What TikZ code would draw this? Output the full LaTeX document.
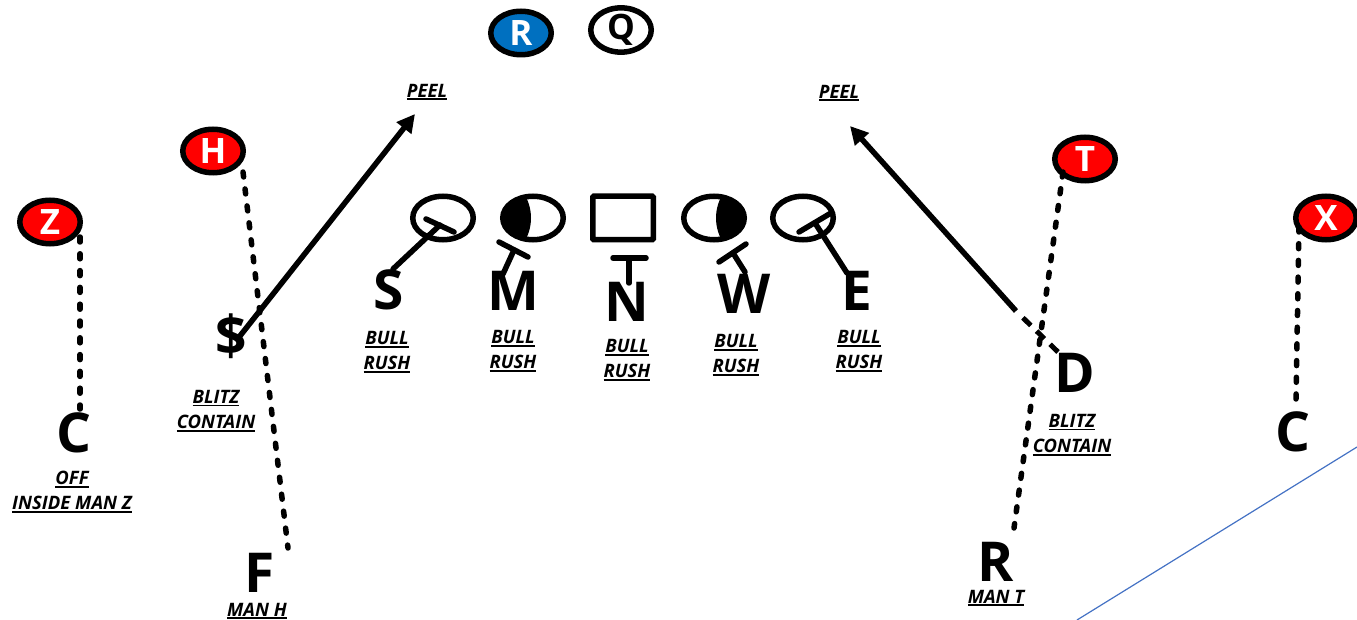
\documentclass[tikz,border=0pt]{standalone}
\usepackage{fontspec}
\setmainfont{Open Sans}
\usetikzlibrary{arrows.meta,shapes.geometric}
\definecolor{pred}{HTML}{FF0000}
\definecolor{pblue}{HTML}{0070C0}
\definecolor{pline}{HTML}{4472C4}
\newcommand\ulab[1]{\leavevmode\vtop{\hbox{#1}\kern1.2pt\hrule height 1.7pt}}
\tikzset{
  x=1pt,y=-1pt,
  oval/.style={ellipse,draw=black,line width=5.5pt,minimum width=60.5pt,minimum height=43.5pt,inner sep=0pt,outer sep=0pt,font=\fontsize{35}{36}\selectfont\bfseries},
  skill/.style={oval,fill=pred,text=white},
  back/.style={oval},
  box/.style={rectangle,draw=black,line width=5.5pt,rounded corners=1pt,minimum width=60.5pt,minimum height=43.5pt,inner sep=0pt,outer sep=0pt},
  player/.style={inner sep=0pt,outer sep=0pt,font=\fontsize{55}{58}\selectfont\bfseries},
  lab/.style={inner sep=0pt,outer sep=0pt,align=center,font=\fontsize{18.5}{25}\selectfont\bfseries\itshape},
  route/.style={line width=5.5pt,line cap=round,dash pattern=on 5pt off #1},
  solid route/.style={line width=5.5pt,-{Triangle[length=18pt,width=18pt]}},
  block/.style={line width=5.5pt,line cap=round},
}
\begin{document}
\begin{tikzpicture}
\useasboundingbox (0,0) rectangle (1357,620);
% backs and receivers
\node[back,fill=pblue,text=white] (rb) at (521,33) {R};
\node[back] (qb) at (621,30) {Q};
\node[skill] (z) at (50,222) {Z};
\node[skill] (h) at (213,151) {H};
\node[skill] (t) at (1085,159) {T};
\node[skill] (x) at (1326,218) {X};
% front symbols
\node[back] (os) at (443,218) {};
\node[back] (om) at (533,218) {};
\node[box] (on) at (623,218) {};
\node[back] (ow) at (714,218) {};
\node[back] (oe) at (803,218) {};
\begin{scope}
 \clip (533,218) ellipse [x radius=31,y radius=22.5];
 \fill (495,190) -- (522,190) .. controls (534,208) and (534,228) .. (522,246) -- (495,246) -- cycle;
\end{scope}
\begin{scope}
 \clip (714,218) ellipse [x radius=31,y radius=22.5];
 \fill (752,190) -- (725,190) .. controls (713,208) and (713,228) .. (725,246) -- (752,246) -- cycle;
\end{scope}
% players
\node[player] (ps) at (389,290) {S};
\node[player] (pm) at (513,291) {M};
\node[player] (pn) at (627,302) {N};
\node[player] (pw) at (744,294) {W};
\node[player] (pe) at (857,291) {E};
\node[player] (pd) at (231,336) {\$};
\node[player] (cl) at (74,433) {C};
\node[player] (pf) at (260,573) {F};
\node[player] (dr) at (1075,373) {D};
\node[player] (pr) at (996,562) {R};
\node[player] (cr) at (1293,432) {C};
% labels
\node[lab] (l1) at (387,352) {\ulab{BULL}\\\ulab{RUSH}};
\node[lab] (l2) at (513,351) {\ulab{BULL}\\\ulab{RUSH}};
\node[lab] (l3) at (627,360) {\ulab{BULL}\\\ulab{RUSH}};
\node[lab] (l4) at (736,355) {\ulab{BULL}\\\ulab{RUSH}};
\node[lab] (l5) at (859,351) {\ulab{BULL}\\\ulab{RUSH}};
\node[lab] (peell) at (427,92) {\ulab{PEEL}};
\node[lab] (peelr) at (839,93) {\ulab{PEEL}};
\node[lab] (bl) at (216,411) {\ulab{BLITZ}\\\ulab{CONTAIN}};
\node[lab] (br) at (1072,435) {\ulab{BLITZ}\\\ulab{CONTAIN}};
\node[lab] (off) at (72,492) {\ulab{OFF}\\\ulab{INSIDE MAN Z}};
\node[lab] (mh) at (257,611) {\ulab{MAN H}};
\node[lab] (mt) at (996,598) {\ulab{MAN T}};
% blocks: stem from the player, bar at the end
\draw[block] ([shift={(4,-21)}]ps.center) -- ([shift={(-3,7)}]os.center);
\draw[block] ([shift={(-17,1)}]os.center) -- ([shift={(11,14)}]os.center);
\draw[block] ([shift={(-10,-17)}]pm.center) -- ([shift={(-19,32)}]om.center);
\draw[block] ([shift={(-34,24)}]om.center) -- ([shift={(-5,39)}]om.center);
\draw[block] ([shift={(2,-19)}]pn.center) -- ([shift={(6,40)}]on.center);
\draw[block] ([shift={(-10,40)}]on.center) -- ([shift={(23,40)}]on.center);
\draw[block] ([shift={(1,-22)}]pw.center) -- ([shift={(19,35)}]ow.center);
\draw[block] ([shift={(5,44)}]ow.center) -- ([shift={(32,26)}]ow.center);
\draw[block] ([shift={(-10,-18)}]pe.center) -- ([shift={(12,5)}]oe.center);
\draw[block] ([shift={(-4,14)}]oe.center) -- ([shift={(28,-5)}]oe.center);
% man routes
\draw[route=11.8pt] ([shift={(30,15)}]z.center) -- ([shift={(6,-24)}]cl.center);
\draw[route=12.08pt] ([shift={(30,21)}]h.center) -- ([shift={(28,-25)}]pf.center);
\draw[route=11.9pt] ([shift={(-22,13)}]t.center) -- ([shift={(18,-34)}]pr.center);
\draw[route=11.7pt] ([shift={(-27,9)}]x.center) -- ([shift={(3,-33)}]cr.center);
% blitz paths
\draw[solid route] ([shift={(5,5)}]pd.center) -- ([shift={(-12,22)}]peell.center);
\coordinate (kink) at (1016,311);
\draw[solid route] (kink) -- ([shift={(11,33)}]peelr.center);
\draw[line width=5pt,dash pattern=on 11pt off 8pt,shorten >=6pt] ([shift={(-17,-21)}]dr.center) -- (kink);
% blue line
\coordinate (lineA) at (1077,620);
\coordinate (lineB) at (1357,447);
\draw[pline,line width=1.2pt] (lineA) -- (lineB);
\end{tikzpicture}
\end{document}
